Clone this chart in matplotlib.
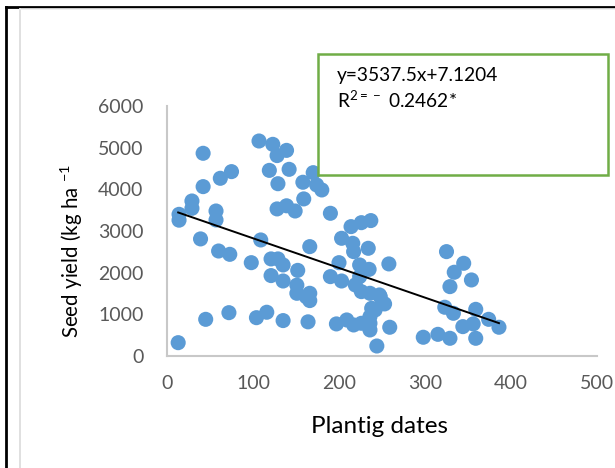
import matplotlib
matplotlib.use("Agg")
import matplotlib.pyplot as plt
from matplotlib.lines import Line2D
from matplotlib.patches import Rectangle

plt.rcParams["font.family"] = ["Lato", "DejaVu Sans"]
plt.rcParams["mathtext.fontset"] = "custom"
plt.rcParams["mathtext.rm"] = "Lato"
plt.rcParams["mathtext.it"] = "Lato:italic"
plt.rcParams["mathtext.bf"] = "Lato:bold"

# planting date (days) and seed yield (kg/ha)
planting_days = [13, 14, 14, 29, 29, 42, 42, 39, 45, 57,
                 57, 60, 62, 75, 73, 72, 98, 104, 107, 109,
                 116, 119, 121, 123, 128, 128, 129, 129, 135, 121,
                 135, 135, 139, 139, 142, 149, 152, 151, 151, 158,
                 159, 162, 164, 166, 166, 166, 170, 174, 180, 190,
                 190, 197, 200, 203, 203, 209, 214, 216, 217, 217,
                 219, 224, 224, 226, 226, 226, 234, 235, 236, 236,
                 236, 237, 238, 244, 247, 253, 258, 259, 298, 315,
                 329, 359, 325, 345, 334, 354, 329, 323, 333, 359,
                 344, 356, 374, 386, 242, 248, 236]
seed_yield = [320, 3400, 3260, 3720, 3545, 4865, 4065, 2810, 880, 3480,
              3265, 2520, 4265, 4425, 2440, 1040, 2240, 920, 5160, 2785,
              1050, 4455, 2330, 5080, 4810, 3530, 4135, 2330, 2185, 1930,
              1800, 850, 4935, 3605, 4480, 3480, 2055, 1700, 1505, 4170,
              3770, 1420, 820, 2625, 1330, 1505, 4400, 4105, 3985, 3425,
              1905, 770, 2240, 2825, 1800, 865, 3105, 2705, 2505, 745,
              1705, 2185, 1905, 3200, 1545, 785, 2585, 2080, 1505, 945,
              625, 3250, 1145, 240, 1465, 1250, 2210, 690, 450, 520,
              425, 425, 2505, 2225, 2010, 1825, 1665, 1170, 1025, 1120,
              705, 770, 880, 690, 1105, 1425, 785]

# fitted line
intercept = 3537.5
slope = -7.1204
equation_text = "y=3537.5x+7.1204"
r2_text = r"R$^{2=\,-}$ 0.2462*"

x_ticks = [0, 100, 200, 300, 400, 500]
y_ticks = [0, 1000, 2000, 3000, 4000, 5000, 6000]

W, H = 615, 468
fig = plt.figure(figsize=(W / 100, H / 100), dpi=100)

ax = fig.add_axes([167 / W, (H - 356) / H, 430 / W, 250 / H])
ax.scatter(planting_days, seed_yield, s=118, color="#5B9BD5",
           edgecolors="none", zorder=3)

line_x = [min(planting_days), max(planting_days)]
line_y = [intercept + slope * v for v in line_x]
ax.plot(line_x, line_y, color="black", lw=1.4, zorder=4)

ax.set_xlim(0, 500)
ax.set_ylim(0, 6000)
ax.set_xticks(x_ticks)
ax.set_yticks(y_ticks)
ax.tick_params(length=0, labelsize=14, labelcolor="#595959")
ax.tick_params(axis="y", pad=17)
ax.tick_params(axis="x", pad=14)
for side in ["top", "right"]:
    ax.spines[side].set_visible(False)
for side in ["left", "bottom"]:
    ax.spines[side].set_color("#C8C8C8")
    ax.spines[side].set_linewidth(1.5)

ax.set_xlabel("Plantig dates", fontsize=17.5)
ax.set_ylabel(r"Seed yield (kg ha $^{-1}$", fontsize=14.8)
ax.yaxis.set_label_coords(-0.19, 0.42)
ax.xaxis.set_label_coords(0.495, -0.24)

# outer frame lines
fig.add_artist(Line2D([6 / W, 6 / W], [0, 1 - 7 / H], color="black", lw=2))
fig.add_artist(Line2D([6 / W, 1], [1 - 7 / H, 1 - 7 / H], color="black", lw=2))
fig.add_artist(Line2D([20 / W, 20 / W], [0, 1 - 9 / H], color="#DADADA", lw=1.2))
fig.add_artist(Line2D([20 / W, 1], [1 - 9 / H, 1 - 9 / H], color="#EDEDED", lw=1.2))

# equation box
box = Rectangle((318 / W, (H - 175) / H), 290 / W, 121 / H,
                transform=fig.transFigure, facecolor="white",
                edgecolor="#70AD47", lw=1.8, zorder=5)
fig.add_artist(box)
fig.text(337 / W, 1 - 75 / H, equation_text, fontsize=13.8,
         va="center", ha="left", zorder=6)
fig.text(337 / W, 1 - 100 / H, r2_text, fontsize=13.8,
         va="center", ha="left", zorder=6)

fig.savefig("out.png", dpi=100)
